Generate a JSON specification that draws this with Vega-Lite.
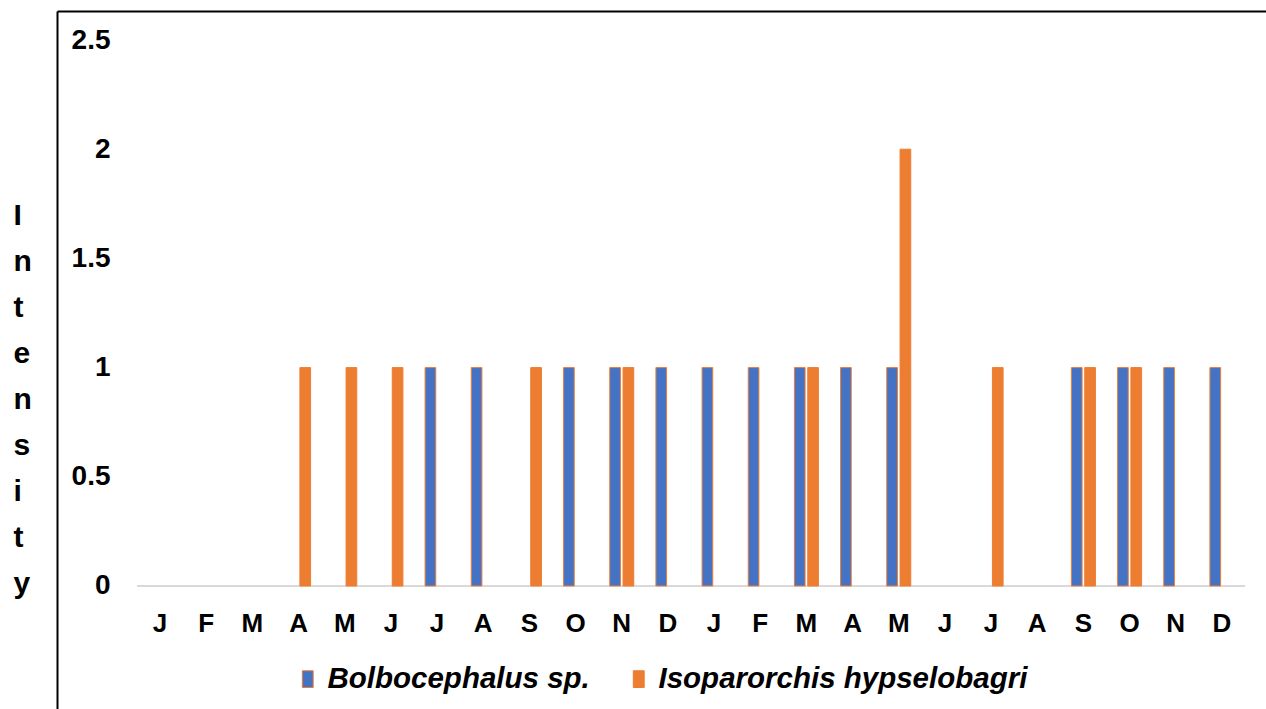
{
  "$schema": "https://vega.github.io/schema/vega-lite/v6.json",
  "autosize": "none",
  "width": 1209,
  "height": 698,
  "padding": {"left": 57, "top": 11, "right": 0, "bottom": 0},
  "background": "white",
  "config": {
    "view": {"stroke": null},
    "font": "Liberation Sans"
  },
  "datasets": {
    "intensity": [
      {"month": "A1", "species": "Isoparorchis hypselobagri", "value": 1},
      {"month": "M1b", "species": "Isoparorchis hypselobagri", "value": 1},
      {"month": "J1b", "species": "Isoparorchis hypselobagri", "value": 1},
      {"month": "J1c", "species": "Bolbocephalus sp.", "value": 1},
      {"month": "A1b", "species": "Bolbocephalus sp.", "value": 1},
      {"month": "S1", "species": "Isoparorchis hypselobagri", "value": 1},
      {"month": "O1", "species": "Bolbocephalus sp.", "value": 1},
      {"month": "N1", "species": "Bolbocephalus sp.", "value": 1},
      {"month": "N1", "species": "Isoparorchis hypselobagri", "value": 1},
      {"month": "D1", "species": "Bolbocephalus sp.", "value": 1},
      {"month": "J2", "species": "Bolbocephalus sp.", "value": 1},
      {"month": "F2", "species": "Bolbocephalus sp.", "value": 1},
      {"month": "M2", "species": "Bolbocephalus sp.", "value": 1},
      {"month": "M2", "species": "Isoparorchis hypselobagri", "value": 1},
      {"month": "A2", "species": "Bolbocephalus sp.", "value": 1},
      {"month": "M2b", "species": "Bolbocephalus sp.", "value": 1},
      {"month": "M2b", "species": "Isoparorchis hypselobagri", "value": 2},
      {"month": "J2c", "species": "Isoparorchis hypselobagri", "value": 1},
      {"month": "S2", "species": "Bolbocephalus sp.", "value": 1},
      {"month": "S2", "species": "Isoparorchis hypselobagri", "value": 1},
      {"month": "O2", "species": "Bolbocephalus sp.", "value": 1},
      {"month": "O2", "species": "Isoparorchis hypselobagri", "value": 1},
      {"month": "N2", "species": "Bolbocephalus sp.", "value": 1},
      {"month": "D2", "species": "Bolbocephalus sp.", "value": 1}
    ],
    "frame": [
      {"start": 0, "end": 24, "level": 0}
    ]
  },
  "layer": [
    {
      "data": {"name": "frame"},
      "mark": {"type": "rule", "color": "#d9d9d9", "strokeWidth": 2},
      "encoding": {
        "x": {
          "field": "start",
          "type": "quantitative",
          "scale": {"domain": [-1.7327, 24.453], "nice": false, "zero": false},
          "axis": {
            "orient": "top",
            "labels": false,
            "ticks": false,
            "grid": false,
            "title": null,
            "domainColor": "black",
            "domainWidth": 2
          }
        },
        "x2": {"field": "end"},
        "y": {
          "field": "level",
          "type": "quantitative",
          "scale": {"domain": [-0.5632, 2.6328], "nice": false, "zero": false},
          "axis": {
            "orient": "left",
            "labels": false,
            "ticks": false,
            "grid": false,
            "title": null,
            "domainColor": "black",
            "domainWidth": 2
          }
        }
      }
    },
    {
      "data": {"name": "intensity"},
      "mark": {"type": "bar", "stroke": "#ED7D31", "strokeWidth": 1},
      "encoding": {
        "x": {
          "field": "month",
          "type": "nominal",
          "scale": {
            "domain": ["J1", "F1", "M1", "A1", "M1b", "J1b", "J1c", "A1b", "S1", "O1", "N1", "D1",
                       "J2", "F2", "M2", "A2", "M2b", "J2b", "J2c", "A2b", "S2", "O2", "N2", "D2"],
            "range": [80, 1188],
            "paddingInner": 0.48,
            "paddingOuter": 0.24,
            "align": 0.5
          },
          "axis": {
            "orient": "bottom",
            "offset": -123,
            "domain": false,
            "ticks": false,
            "tickSize": 0,
            "labelPadding": 24,
            "labelAngle": 0,
            "labelBaseline": "top",
            "labelExpr": "substring(datum.label, 0, 1)",
            "labelFont": "Liberation Sans",
            "labelFontWeight": "bold",
            "labelFontSize": 26,
            "labelColor": "black",
            "title": null
          }
        },
        "xOffset": {
          "field": "species",
          "type": "nominal",
          "scale": {"domain": ["Bolbocephalus sp.", "Isoparorchis hypselobagri"], "paddingInner": 0.2}
        },
        "y": {
          "field": "value",
          "type": "quantitative",
          "scale": {"domain": [-0.5632, 2.6328], "nice": false, "zero": false},
          "axis": {
            "orient": "left",
            "offset": -53,
            "values": [0, 0.5, 1, 1.5, 2, 2.5],
            "format": "~g",
            "domain": false,
            "ticks": false,
            "tickSize": 0,
            "grid": false,
            "labelPadding": 0,
            "labelFont": "Liberation Sans",
            "labelFontWeight": "bold",
            "labelFontSize": 28,
            "labelColor": "black",
            "title": ["I", "n", "t", "e", "n", "s", "i", "t", "y"],
            "titleAngle": 0,
            "titleAlign": "left",
            "titleBaseline": "top",
            "titleLineHeight": 46,
            "titleX": -97,
            "titleY": 189,
            "titleFont": "Liberation Sans",
            "titleFontWeight": "bold",
            "titleFontSize": 30,
            "titleColor": "black"
          }
        },
        "y2": {"datum": 0},
        "color": {
          "field": "species",
          "type": "nominal",
          "scale": {
            "domain": ["Bolbocephalus sp.", "Isoparorchis hypselobagri"],
            "range": ["#4472C4", "#ED7D31"]
          },
          "legend": {
            "orient": "none",
            "direction": "horizontal",
            "legendX": 236,
            "legendY": 653,
            "title": null,
            "symbolType": "M-0.65,-1H0.65V1H-0.65Z",
            "symbolSize": 280,
            "symbolStrokeColor": "#ED7D31",
            "symbolStrokeWidth": 1,
            "symbolOpacity": 1,
            "labelFont": "Liberation Sans",
            "labelFontWeight": "bold",
            "labelFontStyle": "italic",
            "labelFontSize": 29.5,
            "labelColor": "black",
            "labelLimit": 500,
            "labelOffset": 5,
            "columnPadding": 34
          }
        }
      }
    }
  ],
  "resolve": {"scale": {"x": "independent", "y": "independent"}}
}
